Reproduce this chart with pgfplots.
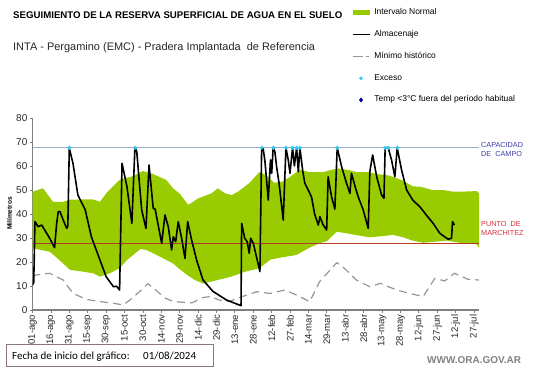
\documentclass[border=0pt]{standalone}
\usepackage{fontspec}
\setmainfont{Liberation Sans}
\newfontfamily\calibri{Carlito}
\usepackage{pgfplots}
\usepackage{pgfplotstable}
\pgfplotsset{compat=1.18}
\usepgfplotslibrary{fillbetween}

\definecolor{verde}{RGB}{153,204,0}
\definecolor{exceso}{RGB}{51,200,240}
\definecolor{capline}{RGB}{150,175,210}
\definecolor{redline}{RGB}{185,55,35}
\definecolor{captext}{RGB}{60,60,170}
\definecolor{pmtext}{RGB}{210,50,60}
\definecolor{minline}{RGB}{150,150,150}
\definecolor{axgray}{RGB}{128,128,128}
\definecolor{tempblue}{RGB}{0,0,160}
\definecolor{boxborder}{RGB}{140,120,120}
\definecolor{webgray}{RGB}{128,128,128}
\definecolor{ticktext}{RGB}{40,40,40}

\pgfplotstableread{
d v
0 49.3
8.6 50.7
16.7 45.1
25 45.1
30.6 46
49 46.1
55 45.1
60.5 48.9
71 54.2
82 55.8
90 57.9
98 56.7
109 54.2
115 50.5
120 48.5
127 43.8
135 46.5
146 48.6
151 50.7
157 48.6
162.5 47.9
167.5 49.3
173 51.4
177 53
185 57.5
191 56
197 53
204 53.5
210 55.5
218 58.5
226 57.4
237 57.4
242 58.2
249 59
259 58.2
264.5 57.4
275 57.4
280 56.7
291 56
302 53.9
310 51.5
316 51.4
326 50
334.5 50
342.7 49.3
356.6 49.4
362 49.6
364 48.6
}\upperband

\pgfplotstableread{
d v
0 25.7
14 24.3
22 20.8
30.6 16.7
41 16
49.5 15.3
55 13.9
63 15.3
71 17.4
77 20.8
88 25.4
93 25
104 22.2
114.6 19.4
119 17.4
126 14.6
132.4 12.5
139 11
151 12.5
162 13.9
173 15.9
185 17.4
194 21
204 22
215 22.9
226 26
234 27.8
240 28.7
248 32.6
255.5 32
264 31.2
275 30.3
286 30.8
294 31.3
302 30.3
310 28.9
318.5 28
329.4 28.5
337.6 28.9
348.4 28
362 27.4
364 26
}\lowerband

\pgfplotstableread{
d v
0 13.9
3 14.6
14 15.3
25 12.5
33 6.9
44 4.4
55 3.5
66 2.8
74 2.1
79.5 4.2
88 8
94 11
100 8.5
108 5
115 3.5
130 3
139 5.2
145 5.6
152 4.2
160 3.5
171 5.6
182.7 7.6
193.5 6.9
205.8 8.3
215 6.3
226 3.5
234 11.8
248 19.7
253 18
264 12.5
275 9.7
283.5 11.1
297 8.3
307.6 6.9
318.5 5.6
328 13.2
336 12.1
344 15.3
355 12.8
364 12.5
}\minimo

\pgfplotstableread{
d v
0 10.4
1 11.5
2 36.8
4.6 34.7
7.5 35.4
10 33.3
14 29.9
18 26
19.7 36.1
21 41
22.4 41
25 37.5
27.9 34
28.8 35
30 67.4
33 61.1
37 47.9
43 41.7
48 30.5
54 22.2
60 13.9
66 9.7
68.6 9.9
71 8.3
73 61.1
77 51.4
81 36.1
83.5 67.6
85 66
89 41.7
92.5 34
95 60.4
98.4 42.4
100 42
105.3 27.8
108 39.6
110.7 34.7
113.4 25
114.8 30.5
116.7 28.5
118.8 36.8
121.6 29.9
124.3 21.5
126.5 36.8
129.7 29.2
133.8 20.8
139 12.5
147 7.8
158 4.2
165 2.8
170 1.8
170.5 36.1
173 29.9
175 28.5
176.7 23.6
177.8 29.9
180 27.8
185.4 16
186.8 67.4
188 67.4
189.5 62
192.2 45.8
194 62.5
195 57
196.2 67.6
197.6 66
199 59.7
201 52.8
204.4 37.5
206.6 67.6
208.5 62.5
209.9 57
212 67.6
213.5 60
215.3 67.6
216.7 57.6
218 67.6
220.2 58.3
222 52.8
224.8 50
227.5 47
230 40
233 35.4
234.3 38.9
237 35.4
239.8 33.3
241 55.5
243.8 47.2
246.5 42
248.4 67.6
252 59.7
256 52.8
258.8 48.6
260 57
263 51.4
265.5 47.2
269.6 41.7
273.7 34
275 57.6
277.3 64.6
280.6 55.5
284.6 47.9
286.5 46.5
287.5 67.6
290 67.6
292.7 62.5
295.4 55.5
297.3 67.6
300.9 58.3
305 50
310 45.8
315.8 43
321 39.6
326.6 36.1
332 32
337.6 29.9
339 29.5
341.6 29.9
342.4 36.8
344 35.4
}\almacenaje

\pgfplotstableread{
d v
30 67.6
83.5 67.6
187 67.6
196.5 67.6
206.6 67.6
212 67.6
215.3 67.6
218 67.6
248.4 67.6
287.5 67.6
290 67.6
297.3 67.6
}\excesos

\begin{document}
\begin{tikzpicture}
\begin{axis}[
  at={(32.5bp,58bp)}, anchor=south west,
  scale only axis, width=446.5bp, height=192bp,
  xmin=0, xmax=364, ymin=0, ymax=80,
  axis x line*=bottom, axis y line*=left,
  axis line style={draw=axgray, line width=1.1bp},
  tick style={draw=axgray, line width=0.8bp},
  tick align=outside, major tick length=3bp,
  xtick={0,15,...,360},
  xticklabels={01-ago,16-ago,31-ago,15-sep,30-sep,15-oct,30-oct,14-nov,29-nov,14-dic,29-dic,13-ene,28-ene,12-feb,27-feb,14-mar,29-mar,13-abr,28-abr,13-may,28-may,12-jun,27-jun,12-jul,27-jul},
  x tick label style={rotate=90, anchor=east, inner sep=1.5bp, text=ticktext, font=\fontsize{9.6}{11}\selectfont},
  ytick={0,10,...,80},
  y tick label style={inner sep=2bp, text=ticktext, font=\fontsize{10}{12}\selectfont},
  /pgf/number format/assume math mode=true,
  legend cell align=left,
  legend style={at={(axis description cs:0.7111,1.570)}, anchor=north west,
    draw=none, fill=none, inner sep=0pt, row sep=13.8bp, column sep=2.5bp,
    nodes={inner sep=0pt, text height=6bp, text depth=2bp},
    font=\fontsize{8.5}{10}\selectfont},
]
\addplot[name path=up, draw=none, forget plot] table {\upperband};
\addplot[name path=lo, draw=none, forget plot] table {\lowerband};
\addplot[verde, forget plot] fill between[of=up and lo];
\addplot[redline, line width=1bp, forget plot] coordinates {(0,27.8) (364,27.8)};
\addplot[capline, line width=1.2bp, forget plot] coordinates {(0,67.6) (364,67.6)};
\addplot[minline, line width=1.2bp, dash pattern=on 8bp off 5bp, forget plot] table {\minimo};
\addplot[black, line width=1.6bp, line join=round, forget plot] table {\almacenaje};
\addplot[only marks, mark=*, mark size=1.8bp, exceso, mark options={draw=none, fill=exceso}, forget plot] table {\excesos};

\addlegendimage{draw=verde, line width=4.6bp, no markers, solid}
\addlegendentry{Intervalo Normal}
\addlegendimage{draw=black, line width=1.6bp, no markers, solid}
\addlegendentry{Almacenaje}
\addlegendimage{draw=minline, line width=1.1bp, no markers, dash pattern=on 10bp off 3bp on 3bp off 10bp}
\addlegendentry{Mínimo histórico}
\addlegendimage{only marks, mark=*, mark size=1.6bp, draw=exceso, fill=exceso, mark options={draw=exceso, fill=exceso}}
\addlegendentry{Exceso}
\addlegendimage{only marks, mark=diamond*, mark size=2.2bp, draw=tempblue, fill=tempblue, mark options={draw=tempblue, fill=tempblue}}
\addlegendentry{Temp <3°C fuera del período habitual}
\end{axis}

\node[anchor=base west, inner sep=0pt, font=\bfseries\fontsize{9.7}{11}\selectfont] at (13bp,349bp) {SEGUIMIENTO DE LA RESERVA SUPERFICIAL DE AGUA EN EL SUELO};
\node[anchor=base west, inner sep=0pt, font=\fontsize{11}{13}\selectfont, text=black!85] at (13bp,317bp) {INTA - Pergamino (EMC) - Pradera Implantada \ de Referencia};
\node[rotate=90, inner sep=0pt, font=\bfseries\fontsize{6.6}{8}\selectfont] at (9.5bp,154.5bp) {Milímetros};

\node[anchor=base west, inner sep=0pt, text=captext, font=\fontsize{7.3}{9}\selectfont] at (481bp,220.4bp) {CAPACIDAD};
\node[anchor=base west, inner sep=0pt, text=captext, font=\fontsize{7.3}{9}\selectfont] at (481bp,211.4bp) {DE\ \ CAMPO};
\node[anchor=base west, inner sep=0pt, text=pmtext, font=\fontsize{7.3}{9}\selectfont] at (481bp,141.1bp) {PUNTO\ \ DE};
\node[anchor=base west, inner sep=0pt, text=pmtext, font=\fontsize{7.3}{9}\selectfont] at (481bp,132.1bp) {MARCHITEZ};

\draw[boxborder, line width=1bp] (6bp,1.5bp) rectangle (213bp,23.5bp);
\node[anchor=base west, inner sep=0pt, font=\calibri\fontsize{11}{13}\selectfont] at (12bp,8.5bp) {Fecha de inicio del gráfico:};
\node[anchor=base west, inner sep=0pt, font=\calibri\fontsize{11}{13}\selectfont] at (143bp,8.5bp) {01/08/2024};
\node[anchor=base west, inner sep=0pt, text=webgray, font=\bfseries\fontsize{10}{12}\selectfont] at (427bp,4.4bp) {WWW.ORA.GOV.AR};
\pgfresetboundingbox
\path[use as bounding box] (0,0) rectangle (541bp,368bp);
\end{tikzpicture}
\end{document}
